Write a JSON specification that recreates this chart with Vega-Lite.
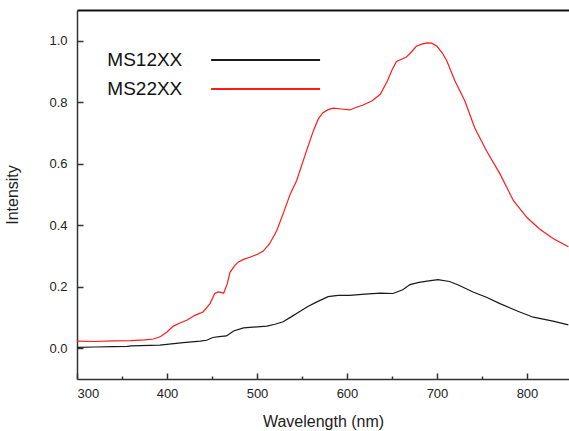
{
  "$schema": "https://vega.github.io/schema/vega-lite/v6.json",
  "width": 492,
  "height": 369,
  "autosize": {"type": "none"},
  "padding": {"left": 77, "top": 10, "right": 0, "bottom": 52},
  "background": "white",
  "config": {
    "view": {"stroke": null},
    "font": "Liberation Sans",
    "axis": {"grid": false, "labelFont": "Liberation Sans", "titleFont": "Liberation Sans", "labelColor": "#222", "titleColor": "#222", "titleFontWeight": "normal", "domainColor": "#333", "tickColor": "#333", "domainWidth": 1.5, "tickWidth": 1.5},
    "legend": {"orient": "none", "legendX": 133, "legendY": 38, "symbolType": "M0,0H10", "symbolSize": 475, "symbolOffset": -10.9, "symbolStrokeWidth": 2, "labelAlign": "right", "labelOffset": -40.8, "labelFontSize": 19, "labelFont": "Liberation Sans", "labelColor": "#111", "rowPadding": 7, "title": null}
  },
  "data": {"values": [
    {"wl": 300, "val": 0.023, "series": "MS22XX"},
    {"wl": 320, "val": 0.022, "series": "MS22XX"},
    {"wl": 340, "val": 0.024, "series": "MS22XX"},
    {"wl": 360, "val": 0.025, "series": "MS22XX"},
    {"wl": 375, "val": 0.027, "series": "MS22XX"},
    {"wl": 385, "val": 0.030, "series": "MS22XX"},
    {"wl": 393, "val": 0.038, "series": "MS22XX"},
    {"wl": 400, "val": 0.053, "series": "MS22XX"},
    {"wl": 407, "val": 0.072, "series": "MS22XX"},
    {"wl": 415, "val": 0.083, "series": "MS22XX"},
    {"wl": 422, "val": 0.091, "series": "MS22XX"},
    {"wl": 431, "val": 0.107, "series": "MS22XX"},
    {"wl": 440, "val": 0.118, "series": "MS22XX"},
    {"wl": 448, "val": 0.146, "series": "MS22XX"},
    {"wl": 453, "val": 0.178, "series": "MS22XX"},
    {"wl": 457, "val": 0.183, "series": "MS22XX"},
    {"wl": 461, "val": 0.181, "series": "MS22XX"},
    {"wl": 463, "val": 0.179, "series": "MS22XX"},
    {"wl": 467, "val": 0.21, "series": "MS22XX"},
    {"wl": 470, "val": 0.247, "series": "MS22XX"},
    {"wl": 475, "val": 0.268, "series": "MS22XX"},
    {"wl": 479, "val": 0.28, "series": "MS22XX"},
    {"wl": 485, "val": 0.289, "series": "MS22XX"},
    {"wl": 492, "val": 0.296, "series": "MS22XX"},
    {"wl": 500, "val": 0.305, "series": "MS22XX"},
    {"wl": 507, "val": 0.316, "series": "MS22XX"},
    {"wl": 514, "val": 0.34, "series": "MS22XX"},
    {"wl": 522, "val": 0.383, "series": "MS22XX"},
    {"wl": 529, "val": 0.437, "series": "MS22XX"},
    {"wl": 537, "val": 0.502, "series": "MS22XX"},
    {"wl": 544, "val": 0.545, "series": "MS22XX"},
    {"wl": 555, "val": 0.642, "series": "MS22XX"},
    {"wl": 563, "val": 0.71, "series": "MS22XX"},
    {"wl": 568, "val": 0.745, "series": "MS22XX"},
    {"wl": 573, "val": 0.765, "series": "MS22XX"},
    {"wl": 579, "val": 0.776, "series": "MS22XX"},
    {"wl": 585, "val": 0.781, "series": "MS22XX"},
    {"wl": 594, "val": 0.778, "series": "MS22XX"},
    {"wl": 603, "val": 0.775, "series": "MS22XX"},
    {"wl": 610, "val": 0.783, "series": "MS22XX"},
    {"wl": 618, "val": 0.791, "series": "MS22XX"},
    {"wl": 628, "val": 0.805, "series": "MS22XX"},
    {"wl": 637, "val": 0.826, "series": "MS22XX"},
    {"wl": 645, "val": 0.87, "series": "MS22XX"},
    {"wl": 650, "val": 0.905, "series": "MS22XX"},
    {"wl": 655, "val": 0.933, "series": "MS22XX"},
    {"wl": 666, "val": 0.947, "series": "MS22XX"},
    {"wl": 672, "val": 0.965, "series": "MS22XX"},
    {"wl": 677, "val": 0.982, "series": "MS22XX"},
    {"wl": 684, "val": 0.99, "series": "MS22XX"},
    {"wl": 689, "val": 0.993, "series": "MS22XX"},
    {"wl": 694, "val": 0.992, "series": "MS22XX"},
    {"wl": 700, "val": 0.982, "series": "MS22XX"},
    {"wl": 706, "val": 0.96, "series": "MS22XX"},
    {"wl": 711, "val": 0.934, "series": "MS22XX"},
    {"wl": 720, "val": 0.869, "series": "MS22XX"},
    {"wl": 731, "val": 0.804, "series": "MS22XX"},
    {"wl": 742, "val": 0.716, "series": "MS22XX"},
    {"wl": 755, "val": 0.642, "series": "MS22XX"},
    {"wl": 770, "val": 0.567, "series": "MS22XX"},
    {"wl": 785, "val": 0.48, "series": "MS22XX"},
    {"wl": 800, "val": 0.425, "series": "MS22XX"},
    {"wl": 814, "val": 0.388, "series": "MS22XX"},
    {"wl": 829, "val": 0.357, "series": "MS22XX"},
    {"wl": 846, "val": 0.33, "series": "MS22XX"},
    {"wl": 300, "val": 0.003, "series": "MS12XX"},
    {"wl": 320, "val": 0.004, "series": "MS12XX"},
    {"wl": 340, "val": 0.005, "series": "MS12XX"},
    {"wl": 356, "val": 0.006, "series": "MS12XX"},
    {"wl": 360, "val": 0.008, "series": "MS12XX"},
    {"wl": 392, "val": 0.010, "series": "MS12XX"},
    {"wl": 405, "val": 0.014, "series": "MS12XX"},
    {"wl": 418, "val": 0.018, "series": "MS12XX"},
    {"wl": 437, "val": 0.023, "series": "MS12XX"},
    {"wl": 444, "val": 0.026, "series": "MS12XX"},
    {"wl": 451, "val": 0.035, "series": "MS12XX"},
    {"wl": 458, "val": 0.038, "series": "MS12XX"},
    {"wl": 466, "val": 0.040, "series": "MS12XX"},
    {"wl": 470, "val": 0.048, "series": "MS12XX"},
    {"wl": 474, "val": 0.056, "series": "MS12XX"},
    {"wl": 485, "val": 0.066, "series": "MS12XX"},
    {"wl": 492, "val": 0.068, "series": "MS12XX"},
    {"wl": 511, "val": 0.072, "series": "MS12XX"},
    {"wl": 520, "val": 0.078, "series": "MS12XX"},
    {"wl": 529, "val": 0.086, "series": "MS12XX"},
    {"wl": 538, "val": 0.102, "series": "MS12XX"},
    {"wl": 548, "val": 0.120, "series": "MS12XX"},
    {"wl": 556, "val": 0.135, "series": "MS12XX"},
    {"wl": 566, "val": 0.150, "series": "MS12XX"},
    {"wl": 579, "val": 0.168, "series": "MS12XX"},
    {"wl": 590, "val": 0.172, "series": "MS12XX"},
    {"wl": 603, "val": 0.172, "series": "MS12XX"},
    {"wl": 620, "val": 0.176, "series": "MS12XX"},
    {"wl": 637, "val": 0.179, "series": "MS12XX"},
    {"wl": 651, "val": 0.178, "series": "MS12XX"},
    {"wl": 662, "val": 0.19, "series": "MS12XX"},
    {"wl": 670, "val": 0.207, "series": "MS12XX"},
    {"wl": 680, "val": 0.214, "series": "MS12XX"},
    {"wl": 689, "val": 0.218, "series": "MS12XX"},
    {"wl": 701, "val": 0.223, "series": "MS12XX"},
    {"wl": 714, "val": 0.217, "series": "MS12XX"},
    {"wl": 725, "val": 0.204, "series": "MS12XX"},
    {"wl": 740, "val": 0.183, "series": "MS12XX"},
    {"wl": 755, "val": 0.166, "series": "MS12XX"},
    {"wl": 770, "val": 0.145, "series": "MS12XX"},
    {"wl": 792, "val": 0.118, "series": "MS12XX"},
    {"wl": 807, "val": 0.101, "series": "MS12XX"},
    {"wl": 829, "val": 0.088, "series": "MS12XX"},
    {"wl": 846, "val": 0.076, "series": "MS12XX"}
  ]},
  "layer": [
    {
      "mark": {"type": "line", "strokeWidth": 1.2, "clip": true},
      "encoding": {
        "x": {"field": "wl", "type": "quantitative", "scale": {"domain": [300, 846.7], "nice": false, "zero": false},
          "axis": {"orient": "bottom", "title": "Wavelength (nm)", "titleFontSize": 16, "titlePadding": 13, "labelFontSize": 13, "labelPadding": 14,
            "values": [300, 350, 400, 450, 500, 550, 600, 650, 700, 750, 800],
            "labelExpr": "datum.value % 100 === 0 ? datum.label : ''",
            "tickSize": {"condition": {"test": "datum.value % 100 === 0", "value": -6}, "value": -3}}},
        "y": {"field": "val", "type": "quantitative", "scale": {"domain": [-0.1, 1.1], "nice": false, "zero": false},
          "axis": {"title": "Intensity", "titleFontSize": 16, "titlePadding": 28, "labelFontSize": 13, "labelPadding": 16, "format": ".1f",
            "values": [0, 0.1, 0.2, 0.3, 0.4, 0.5, 0.6, 0.7, 0.8, 0.9, 1.0],
            "labelExpr": "round(datum.value * 10) % 2 === 0 ? datum.label : ''",
            "tickSize": {"condition": {"test": "round(datum.value * 10) % 2 === 0", "value": -6}, "value": -3}}},
        "color": {"field": "series", "type": "nominal", "scale": {"domain": ["MS12XX", "MS22XX"], "range": ["#1a1a1a", "#ff1a1a"]}}
      }
    },
    {
      "mark": {"type": "line", "strokeOpacity": 0, "clip": true},
      "encoding": {
        "x": {"field": "wl", "type": "quantitative", "axis": {"orient": "top", "title": null, "labels": false, "ticks": false, "domainColor": "#111", "domainWidth": 2}},
        "y": {"field": "val", "type": "quantitative"},
        "detail": {"field": "series"}
      }
    }
  ],
  "resolve": {"axis": {"x": "independent"}}
}
